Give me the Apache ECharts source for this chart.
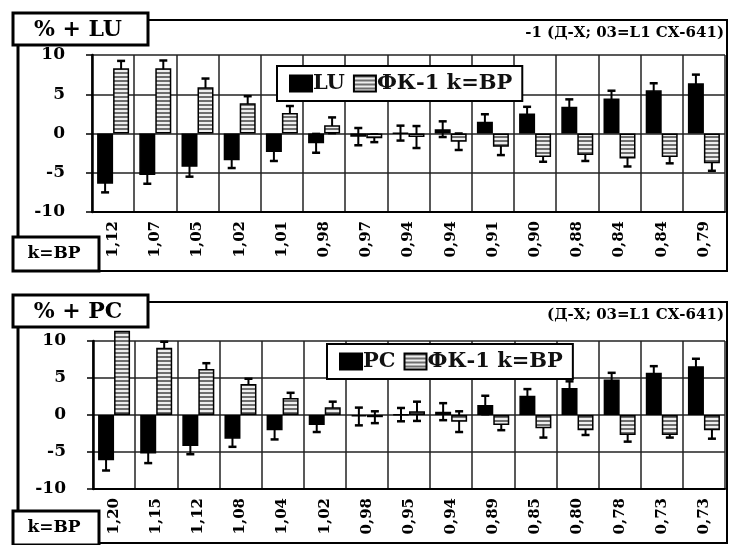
<!DOCTYPE html>
<html><head><meta charset="utf-8">
<script src="https://cdn.jsdelivr.net/npm/echarts@6/dist/echarts.min.js"></script>
<style>html,body{margin:0;padding:0;background:#fff}#c{width:730px;height:545px}</style>
</head><body><div id="c"></div>
<script>
const catsTop = ['1,12','1,07','1,05','1,02','1,01','0,98','0,97','0,94','0,94','0,91','0,90','0,88','0,84','0,84','0,79'];
const luVals  = [-6.4,-5.3,-4.25,-3.4,-2.35,-1.25,-0.4,0.05,0.55,1.5,2.55,3.4,4.45,5.5,6.4];
const luErr   = [1.1,1.1,1.25,1.0,1.15,1.2,1.1,0.95,1.0,0.95,0.85,0.95,1.0,0.9,1.1];
const fkTop   = [8.3,8.3,5.9,3.85,2.6,1.05,-0.6,-0.45,-1.05,-1.7,-3.0,-2.75,-3.2,-3.0,-3.8];
const fkTopErr= [0.95,1.0,1.1,0.9,0.9,1.0,0.5,1.4,1.05,1.05,0.6,0.75,1.0,0.8,0.95];

const catsBot = ['1,20','1,15','1,12','1,08','1,04','1,02','0,98','0,95','0,94','0,89','0,85','0,80','0,78','0,73','0,73'];
const pcVals  = [-6.1,-5.2,-4.2,-3.2,-2.05,-1.35,-0.2,0.05,0.45,1.35,2.6,3.65,4.8,5.7,6.6];
const pcErr   = [1.4,1.3,1.1,1.1,1.25,0.95,1.2,0.9,1.15,1.25,0.9,0.9,0.9,0.9,1.0];
const fkBot   = [11.4,9.1,6.2,4.2,2.3,1.05,-0.3,0.5,-0.9,-1.35,-1.8,-2.05,-2.7,-2.7,-2.05];
const fkBotErr= [0,0.8,0.8,0.7,0.7,0.75,0.8,1.3,1.4,0.7,1.25,0.65,0.9,0.35,1.15];

const yTicks = {min:-10, max:10, interval:5};

const F = '"DejaVu Serif","Liberation Serif",serif';
const BAR_W = 16;

// stripe pattern
const pc = document.createElement('canvas'); pc.width = 4; pc.height = 4;
const px = pc.getContext('2d');
px.fillStyle = '#eeeeee'; px.fillRect(0,0,4,4);
px.fillStyle = '#6e6e6e'; px.fillRect(0,0,4,2);
const stripe = {image: pc, repeat: 'repeat'};

const chart = echarts.init(document.getElementById('c'), null, {renderer:'canvas'});

function errSeries(gi, vals, errs, offset) {
  return {
    type:'custom', xAxisIndex:gi, yAxisIndex:gi, z:1, silent:true,
    data: vals.map((v,i)=>[i, v, errs[i]]),
    renderItem: function(params, api){
      const e = api.value(2);
      if (!e) return null;
      const i = api.value(0), v = api.value(1);
      const hi = api.coord([i, v + e]), lo = api.coord([i, v - e]);
      const x = hi[0] + offset;
      return {type:'group', children:[
        {type:'line', shape:{x1:x, y1:hi[1], x2:x, y2:lo[1]}, style:{stroke:'#000', lineWidth:2}},
        {type:'line', shape:{x1:x-4, y1:hi[1], x2:x+4, y2:hi[1]}, style:{stroke:'#000', lineWidth:2.5}},
        {type:'line', shape:{x1:x-4, y1:lo[1], x2:x+4, y2:lo[1]}, style:{stroke:'#000', lineWidth:2.5}}
      ]};
    }
  };
}

function xAxisCfg(gi, cats){
  return {type:'category', gridIndex:gi, data:cats, position:'bottom',
    axisLine:{onZero:false, lineStyle:{color:'#000', width:2}},
    axisTick:{show:false},
    axisLabel:{rotate:90, interval:0, margin:9, color:'#000', fontFamily:F, fontWeight:'bold', fontSize:15},
    splitLine:{show:true, interval:0, lineStyle:{color:'#222', width:1.5}}};
}
function yAxisCfg(gi){
  return {type:'value', gridIndex:gi, min:yTicks.min, max:yTicks.max, interval:yTicks.interval,
    axisLine:{show:true, lineStyle:{color:'#000', width:2.5}},
    axisTick:{show:true, length:6, lineStyle:{color:'#000', width:1.5}},
    axisLabel:{color:'#000', fontFamily:F, fontWeight:'bold', fontSize:17, margin:27},
    splitLine:{show:true, lineStyle:{color:'#222', width:1.5}}};
}
function legendCfg(names, left, top){
  return {data:names, left:left, top:top, orient:'horizontal', padding:[7,10,7,12], itemGap:8,
    itemWidth:22, itemHeight:16, icon:'rect', backgroundColor:'#fff', borderColor:'#000', borderWidth:2,
    textStyle:{color:'#111', fontFamily:F, fontWeight:'bold', fontSize:21, padding:[0,0,0,-4]}};
}
function barS(name, gi, vals, color, border){
  return {type:'bar', name:name, xAxisIndex:gi, yAxisIndex:gi, data:vals, barWidth:BAR_W, barGap:'0%',
    clip:false, z:2, itemStyle:{color:color, borderColor:border, borderWidth:1.5}};
}

const boxStyle = {fill:'#fff', stroke:'#000', lineWidth:3};
function frame(yTop, titleText, kTop, bottomY, rightNote){
  return [
    {type:'polyline', shape:{points:[[148,yTop],[727,yTop],[727,bottomY],[99,bottomY]]}, style:{fill:null, stroke:'#000', lineWidth:2}, z:0},
    {type:'line', shape:{x1:18,y1:yTop+25,x2:18,y2:kTop}, style:{stroke:'#000', lineWidth:3}, z:0},
    {type:'rect', shape:{x:13,y:yTop-7,width:135,height:32}, style:boxStyle, z:10},
    {type:'text', x:78, y:yTop+10, style:{text:titleText, font:'bold 22px '+F, fill:'#000', align:'center', verticalAlign:'middle'}, z:11},
    {type:'rect', shape:{x:13,y:kTop,width:86,height:34}, style:boxStyle, z:10},
    {type:'text', x:54, y:kTop+17, style:{text:'k=BP', font:'bold 17px '+F, fill:'#000', align:'center', verticalAlign:'middle'}, z:11},
    {type:'text', x:724, y:yTop+13, style:{text:rightNote, font:'bold 15px '+F, fill:'#000', align:'right', verticalAlign:'middle'}, z:11}
  ];
}

chart.setOption({
  animation:false,
  backgroundColor:'#fff',
  grid:[
    {left:92, right:5, top:55, bottom:333},
    {left:93, right:5, top:341, bottom:56}
  ],
  xAxis:[xAxisCfg(0, catsTop), xAxisCfg(1, catsBot)],
  yAxis:[yAxisCfg(0), yAxisCfg(1)],
  legend:[
    legendCfg(['LU','ФК-1 k=BP'], 277, 66),
    legendCfg(['PC','ФК-1 k=BP'], 327, 344)
  ],
  series:[
    errSeries(0, luVals, luErr, -BAR_W/2),
    errSeries(0, fkTop, fkTopErr, BAR_W/2),
    barS('LU', 0, luVals, '#000', '#000'),
    barS('ФК-1 k=BP', 0, fkTop, stripe, '#000'),
    errSeries(1, pcVals, pcErr, -BAR_W/2),
    errSeries(1, fkBot, fkBotErr, BAR_W/2),
    barS('PC', 1, pcVals, '#000', '#000'),
    barS('ФК-1 k=BP', 1, fkBot, stripe, '#000')
  ],
  graphic: [].concat(
    frame(20, '% + LU', 237, 271, '-1 (Д-Х; 03=L1 СХ-641)'),
    frame(302, '% + PC', 511, 543, '(Д-Х; 03=L1 СХ-641)')
  )
});
</script></body></html>
